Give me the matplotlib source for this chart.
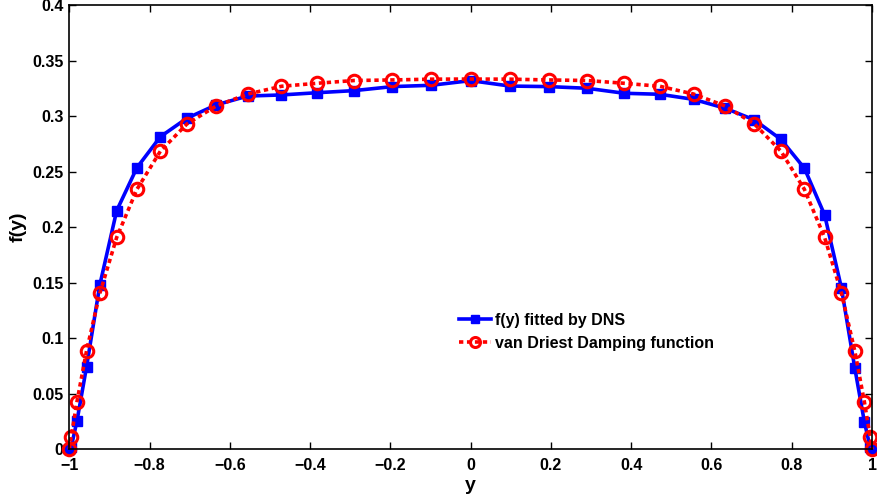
import matplotlib
matplotlib.use("Agg")
import matplotlib.pyplot as plt

plt.rcParams['font.family'] = ['Liberation Sans', 'DejaVu Sans']
plt.rcParams['font.weight'] = 'bold'

y_pos = [-1.0, -0.9952, -0.9808, -0.9569, -0.9239, -0.8819, -0.8315, -0.7730,
         -0.7071, -0.6344, -0.5556, -0.4714, -0.3827, -0.2903, -0.1951, -0.0980,
         0.0, 0.0980, 0.1951, 0.2903, 0.3827, 0.4714, 0.5556, 0.6344,
         0.7071, 0.7730, 0.8315, 0.8819, 0.9239, 0.9569, 0.9808, 0.9952, 1.0]

f_dns = [0.0, 0.002, 0.0255, 0.0744, 0.148, 0.2148, 0.2535, 0.2814,
         0.298, 0.310, 0.318, 0.319, 0.321, 0.3229, 0.3265, 0.3277,
         0.3319, 0.327, 0.3265, 0.325, 0.3205, 0.3196, 0.315, 0.307,
         0.2965, 0.279, 0.253, 0.211, 0.145, 0.0735, 0.0249, 0.002, 0.0]

f_vd = [0.0, 0.0113, 0.0429, 0.0888, 0.1404, 0.1907, 0.234, 0.2684,
        0.2928, 0.309, 0.3198, 0.3268, 0.3295, 0.332, 0.3325, 0.3332,
        0.3333, 0.3332, 0.3325, 0.332, 0.3295, 0.3268, 0.3198, 0.309,
        0.2928, 0.2684, 0.234, 0.1907, 0.1404, 0.0888, 0.0429, 0.0113, 0.0]

x_ticks = [-1, -0.8, -0.6, -0.4, -0.2, 0, 0.2, 0.4, 0.6, 0.8, 1]
x_ticklabels = ['\u22121', '\u22120.8', '\u22120.6', '\u22120.4', '\u22120.2', '0',
                '0.2', '0.4', '0.6', '0.8', '1']
y_ticks = [0, 0.05, 0.1, 0.15, 0.2, 0.25, 0.3, 0.35, 0.4]
y_ticklabels = ['0', '0.05', '0.1', '0.15', '0.2', '0.25', '0.3', '0.35', '0.4']

fig = plt.figure(figsize=(8.78, 4.97), dpi=100)
ax = fig.add_axes([0.0789, 0.096, 0.9143, 0.894])

ax.plot(y_pos, f_dns, color='#0000ff', linestyle='-', linewidth=2.6,
        marker='s', markersize=7, markerfacecolor='#0000ff',
        markeredgecolor='#0000ff', label='f(y) fitted by DNS', clip_on=False)
ax.plot(y_pos, f_vd, color='#ff0000', linestyle=(0, (1.2, 1.0)), linewidth=2.6,
        marker='o', markersize=9, markerfacecolor='none',
        markeredgecolor='#ff0000', markeredgewidth=2.2,
        label='van Driest Damping function', clip_on=False)

ax.set_xlim(-1, 1)
ax.set_ylim(0, 0.4)
ax.set_xticks(x_ticks)
ax.set_xticklabels(x_ticklabels)
ax.set_yticks(y_ticks)
ax.set_yticklabels(y_ticklabels)
ax.tick_params(direction='in', length=5, width=1, labelsize=11.5,
               top=True, right=True)
ax.tick_params(axis='x', pad=6)
ax.tick_params(axis='y', pad=4)
for lbl in ax.get_xticklabels() + ax.get_yticklabels():
    lbl.set_fontweight('bold')
for sp in ax.spines.values():
    sp.set_linewidth(1.2)

ax.set_xlabel('y', fontsize=14, fontweight='bold', labelpad=3)
ax.set_ylabel('f(y)', fontsize=14, fontweight='bold', labelpad=4)

leg = ax.legend(loc='upper left', bbox_to_anchor=(0.477, 0.322), frameon=False,
                fontsize=11.5, handlelength=2.0, handletextpad=0.3,
                labelspacing=0.5, borderaxespad=0, markerscale=0.8)
for t in leg.get_texts():
    t.set_fontweight('bold')

fig.savefig('out.png', dpi=100)
